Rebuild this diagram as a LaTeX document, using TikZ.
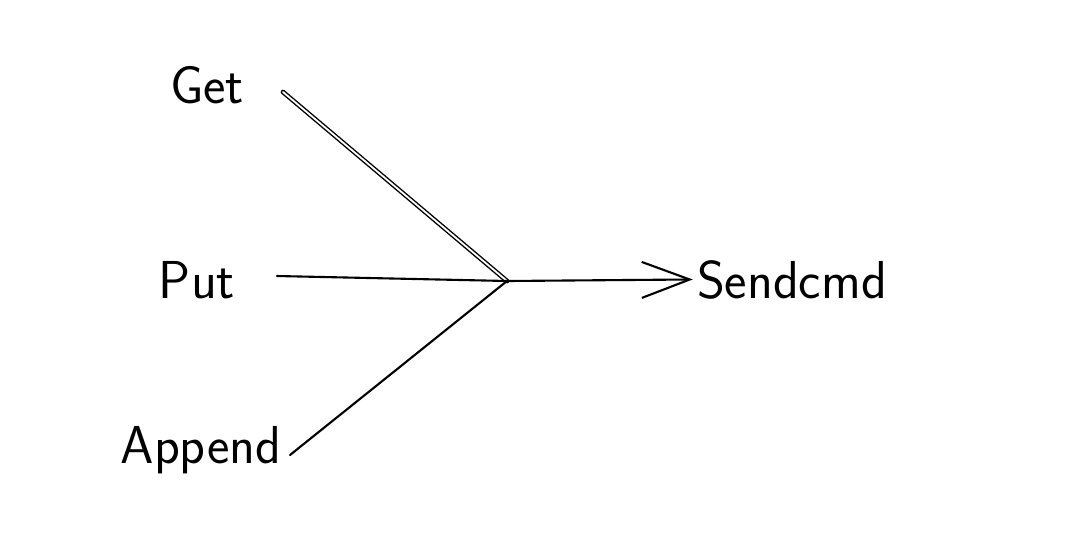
\documentclass[tikz,border=0pt]{standalone}
\usepackage{xcolor}
\usepackage{tikz}
\usetikzlibrary{arrows.meta,positioning,calc}

\begin{document}
\begin{tikzpicture}[
  word/.style={font=\sffamily\fontsize{38}{44}\selectfont, inner sep=0.1cm, anchor=base},
  pen/.style={line width=1.5pt, line cap=round},
  twin/.style={line width=1pt, double, double distance=1.3pt, line cap=round},
  arr/.style={pen, -{Straight Barb[length=12mm, width=9mm, line width=1.5pt]}}
]
\useasboundingbox (0,0) rectangle (26.725,-13.35);

% words
\node[word] (get) at (5.175,-2.575) {Get};
\node[word] (put) at (4.925,-7.45) {Put};
\node[word] (append) at (5.025,-11.575) {Append};
\node[word] (send) at (19.8,-7.45) {Sendcmd};

% line ends and meeting point
\coordinate (getend) at (7.075,-2.3);
\coordinate (putend) at (6.925,-6.9);
\coordinate (appendend) at (7.25,-11.375);
\coordinate (join) at (12.675,-7.025);

\draw[twin] (getend) -- (join);
\draw[pen] (putend) -- (join);
\draw[pen] (appendend) -- (join);
\draw[arr] (join) -- (send.west);
\end{tikzpicture}
\end{document}
